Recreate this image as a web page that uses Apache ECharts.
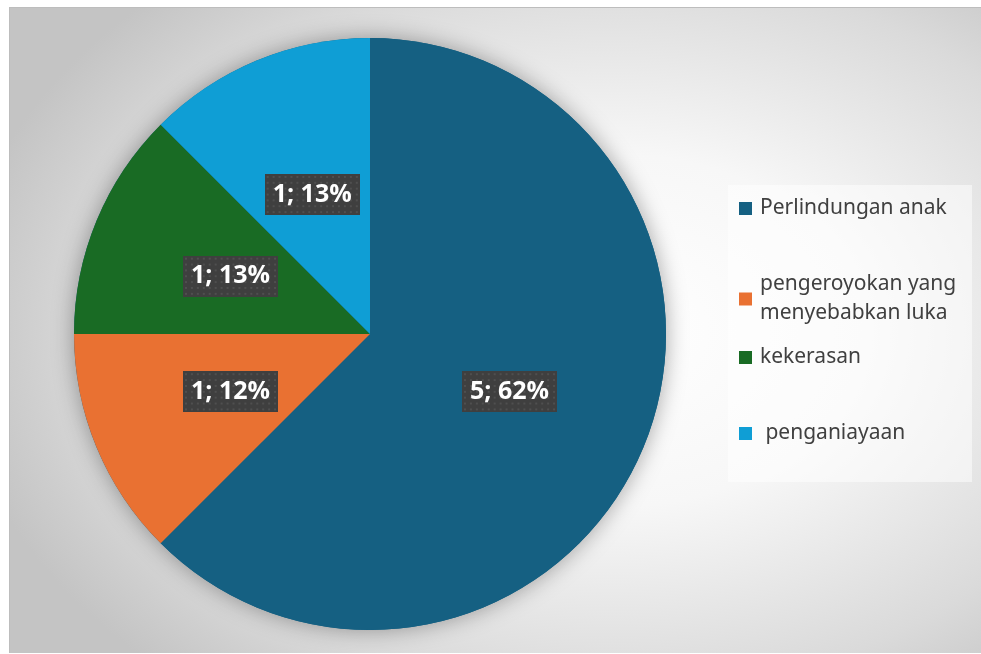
<!DOCTYPE html>
<html>
<head>
<meta charset="utf-8">
<script src="https://cdn.jsdelivr.net/npm/echarts@6/dist/echarts.min.js"></script>
<style>
  html, body { margin: 0; padding: 0; background: #ffffff; }
  #frame {
    position: absolute; left: 9px; top: 7px; width: 972px; height: 646px;
    box-sizing: border-box;
    border-top: 1px solid #bdbdbd; border-left: 1px solid #bdbdbd;
    background: radial-gradient(ellipse 68% 72% at 62% 50%, #ffffff 0%, #f7f7f7 38%, #dadada 78%, #c4c4c4 100%);
  }
  #chart { position: absolute; left: 0; top: 0; width: 981px; height: 654px; }
</style>
</head>
<body>
<div id="frame"></div>
<div id="chart"></div>
<script>
// Case categories and counts
const categories = [
  'Perlindungan anak',
  'pengeroyokan yang menyebabkan luka',
  'kekerasan',
  ' penganiayaan'
];
const counts = [5, 1, 1, 1];
// Percent figures printed in the labels
const labelPercents = [62, 12, 13, 13];
const colors = ['#156082', '#E97132', '#196B24', '#0F9ED5'];

// Dark dotted texture used behind the data labels
function dottedTexture(w, h) {
  const c = document.createElement('canvas');
  c.width = w; c.height = h;
  const g = c.getContext('2d');
  g.fillStyle = '#3f3f3f';
  g.fillRect(0, 0, w, h);
  g.fillStyle = '#4f4f4f';
  for (let y = 2; y < h; y += 6) {
    for (let x = 2; x < w; x += 6) {
      g.fillRect(x, y, 2, 2);
    }
  }
  return c;
}
const labelBg = dottedTexture(96, 42);

const chart = echarts.init(document.getElementById('chart'), null, { renderer: 'canvas' });

const legendTops = [189, 265, 338, 414];
const legends = categories.map((name, i) => ({
  data: [name],
  left: 734,
  top: legendTops[i],
  orient: 'vertical',
  selectedMode: false,
  itemWidth: 13,
  itemHeight: 13,
  icon: 'rect',
  textStyle: {
    color: '#404040',
    fontSize: 21,
    fontFamily: 'Noto Sans',
    lineHeight: 29,
    width: 215,
    overflow: 'break',
    padding: [0, 0, 0, 3]
  }
}));

chart.setOption({
  animation: false,
  color: colors,
  graphic: [{
    type: 'rect',
    left: 728, top: 185,
    shape: { width: 244, height: 297 },
    style: { fill: 'rgba(255,255,255,0.5)' },
    z: -1
  }],
  legend: legends,
  series: [
    {
      // soft halo under the pie
      type: 'pie',
      center: [370, 334],
      radius: 296,
      silent: true,
      label: { show: false },
      labelLine: { show: false },
      itemStyle: {
        color: '#156082',
        shadowBlur: 22,
        shadowColor: 'rgba(0,0,0,0.35)'
      },
      data: [{ value: 1, name: '' }],
      z: 1
    },
    {
      type: 'pie',
      center: [370, 334],
      radius: 296,
      startAngle: 90,
      clockwise: true,
      z: 2,
      itemStyle: { borderWidth: 0 },
      label: {
        show: true,
        position: 'inside',
        formatter: p => p.value + '; ' + labelPercents[p.dataIndex] + '%',
        color: '#ffffff',
        fontSize: 25,
        fontWeight: 'bold',
        fontFamily: 'Open Sans',
        lineHeight: 25,
        padding: [8, 8, 8, 8],
        backgroundColor: { image: labelBg },
        shadowColor: 'rgba(0,0,0,0.55)',
        shadowBlur: 6,
        shadowOffsetX: 3,
        shadowOffsetY: 3
      },
      labelLine: { show: false },
      data: categories.map((name, i) => ({ name, value: counts[i] }))
    }
  ]
});
</script>
</body>
</html>
